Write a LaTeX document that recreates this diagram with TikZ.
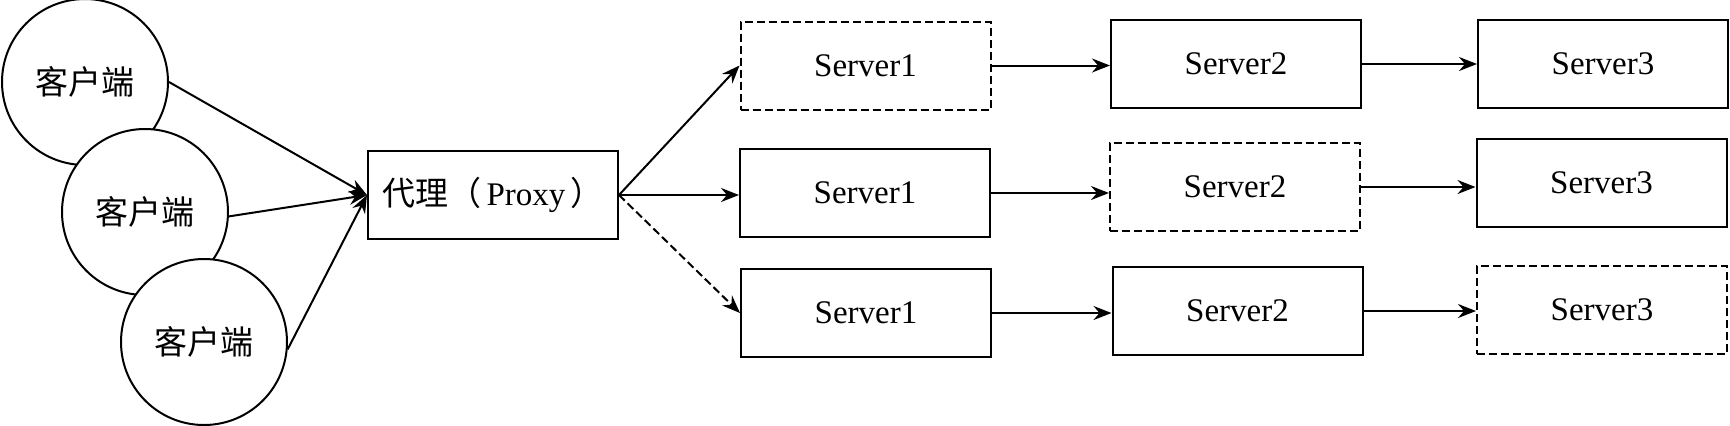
\documentclass[tikz,border=0pt]{standalone}
\usepackage{fontspec}
\setmainfont{Liberation Serif}
\newfontfamily\cjk{Noto Sans CJK SC}
\usetikzlibrary{arrows.meta}
\begin{document}
\begin{tikzpicture}[x=0.5pt,y=-0.5pt,
  font=\fontsize{16.5pt}{19pt}\selectfont,
  client/.style={circle,draw,fill=white,minimum size=83pt,inner sep=0pt,line width=1pt},
  box/.style={rectangle,draw,fill=white,minimum width=125pt,minimum height=44pt,inner sep=0pt,line width=1pt},
  dbox/.style={box,dash pattern=on 4pt off 2pt},
  arr/.style={-{Stealth[length=9pt,width=7pt,inset=3pt]},line width=1pt},
  darr/.style={arr,dash pattern=on 4pt off 2pt}]
\useasboundingbox (0,0) rectangle (1730,425);
% clients
\node[client] (c1) at (85,82) {\cjk 客户端};
\node[client] (c2) at (145,212) {\cjk 客户端};
\node[client] (c3) at (204,342) {\cjk 客户端};
% proxy
\node[box] (p) at (493,195) {{\cjk 代理（}\,Proxy\,{\cjk ）}};
% servers
\node[dbox] (a1) at (865.5,65.5) {Server1};
\node[box]  (a2) at (1236,64) {Server2};
\node[box]  (a3) at (1603,63.5) {Server3};
\node[box]  (b1) at (865,193) {Server1};
\node[dbox] (b2) at (1235,187) {Server2};
\node[box]  (b3) at (1601.5,183) {Server3};
\node[box]  (d1) at (866,313) {Server1};
\node[box]  (d2) at (1237.5,311) {Server2};
\node[dbox] (d3) at (1602,310) {Server3};
% connectors
\draw[arr] (c1.east) -- (p.west);
\draw[arr] (c2.-3) -- (p.west);
\draw[arr] (c3.-5) -- (p.west);
\draw[arr] (p.east) -- (a1.west);
\draw[arr] (p.east) -- (p.east -| b1.west);
\draw[darr] (p.east) -- (d1.west);
\draw[arr] (a1.east) -- (a1.east -| a2.west);
\draw[arr] (a2.east) -- (a2.east -| a3.west);
\draw[arr] (b1.east) -- (b1.east -| b2.west);
\draw[arr] (b2.east) -- (b2.east -| b3.west);
\draw[arr] (d1.east) -- (d1.east -| d2.west);
\draw[arr] (d2.east) -- (d2.east -| d3.west);
\end{tikzpicture}
\end{document}
